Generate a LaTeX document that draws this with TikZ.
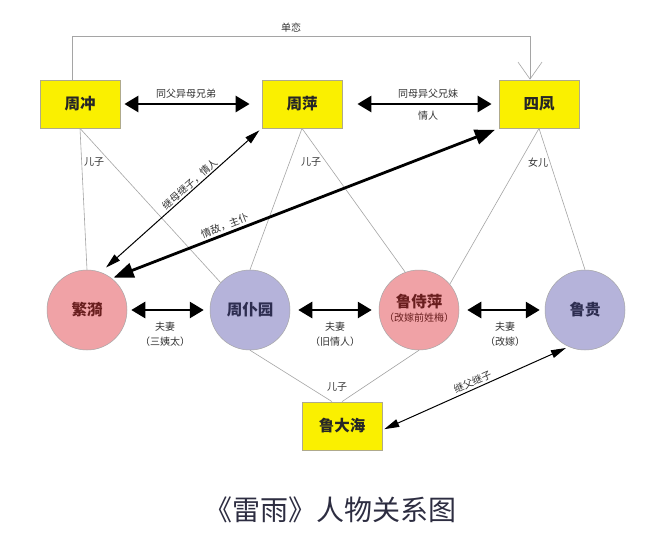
\documentclass[tikz,border=0pt]{standalone}
\usepackage{fontspec}
\setmainfont{Noto Sans CJK SC}
\usetikzlibrary{arrows.meta}
\definecolor{boxyellow}{RGB}{250,240,0}
\definecolor{boxline}{RGB}{175,170,140}
\definecolor{pinkc}{RGB}{240,162,166}
\definecolor{lavc}{RGB}{181,179,218}
\definecolor{pinktxt}{RGB}{105,30,30}
\definecolor{lavtxt}{RGB}{45,45,80}
\definecolor{reline}{RGB}{165,165,165}
\definecolor{titlec}{RGB}{45,45,65}
\begin{document}
\begin{tikzpicture}[x=1pt,y=-1pt,
  pbox/.style={draw=boxline, line width=0.8pt, fill=boxyellow, minimum width=80pt, minimum height=48pt, inner sep=0pt, font=\fontsize{15.5}{16}\selectfont\bfseries, text=black!85},
  pinkn/.style={circle, draw=gray!70, line width=0.5pt, fill=pinkc, minimum size=80pt, inner sep=0pt, font=\fontsize{15.5}{16}\selectfont\bfseries, text=pinktxt},
  lavn/.style={circle, draw=gray!70, line width=0.5pt, fill=lavc, minimum size=80pt, inner sep=0pt, font=\fontsize{15.5}{16}\selectfont\bfseries, text=lavtxt},
  nametxt/.style={inner sep=0pt, font=\fontsize{15.5}{16}\selectfont\bfseries},
  rel/.style={draw=reline, line width=0.6pt},
  thicktwo/.style={line width=2.8pt, {Triangle[length=14pt,width=16pt]}-{Triangle[length=14pt,width=16pt]}},
  thickdiag/.style={line width=2.8pt, {Triangle[length=20pt,width=15pt]}-{Triangle[length=20pt,width=15pt]}},
  thintwo/.style={line width=1pt, {Triangle[length=15pt,width=8pt]}-{Triangle[length=15pt,width=8pt]}},
  lab/.style={font=\fontsize{10}{12}\selectfont, text=black!80, inner sep=1pt},
]
\fill[white] (0,0) rectangle (647,549);
\useasboundingbox (0,0) rectangle (647,549);

% nodes
\node[pbox] (zc) at (80,104) {周冲};
\node[pbox] (zp) at (302,104) {周萍};
\node[pbox] (sf) at (539,104) {四凤};
\node[pbox] (ldh) at (342,426) {鲁大海};
\node[pinkn] (fy) at (87,310) {繁漪};
\node[lavn] (zpy) at (250,310) {周仆园};
\node[pinkn] (lsp) at (419,310) {};
\node[nametxt, text=pinktxt] (lspname) at (419,302) {鲁侍萍};
\node[lab, text=pinktxt] (lspsub) at (419,318) {（改嫁前姓梅）};
\node[lavn] (lg) at (585,310) {鲁贵};

% thin family lines
\draw[rel] (zc.south) -- (fy.north);
\draw[rel] (zc.south) -- (zpy.137);
\draw[rel] (zp.south) -- (zpy.north);
\draw[rel] (zp.south) -- (lsp.110);
\draw[rel] (sf.south) -- (lsp.40);
\draw[rel] (sf.south) -- (lg.north);
\draw[rel] (zpy.south) -- ([xshift=-10pt]ldh.north);
\draw[rel] (lsp.south) -- (ldh.north);
\node[lab] (l1) at (94,162) {儿子};
\node[lab] (l2) at (311,162) {儿子};
\node[lab] (l3) at (538,163) {女儿};
\node[lab] (l4) at (337,387) {儿子};

% unrequited love
\coordinate (dlc) at (72,36);
\draw[rel, -{Straight Barb[length=17pt,width=24pt]}] ([xshift=-8pt]zc.north) |- (dlc) -| ([xshift=-9pt]sf.north);
\node[lab] (dl) at (291,28) {单恋};

% horizontal thick arrows
\draw[thicktwo, shorten <=4pt, shorten >=12pt] (zc) -- (zp);
\node[lab] (t1) at (186,94) {同父异母兄弟};
\draw[thicktwo, shorten <=15pt, shorten >=7pt] (zp) -- (sf);
\node[lab] (t2) at (428,94) {同母异父兄妹};
\node[lab] (t3) at (428,116) {情人};

\draw[thicktwo, shorten <=4pt, shorten >=6pt] (fy) -- (zpy);
\node[lab] (c1) at (165,327) {夫妻};
\node[lab] (c2) at (165,342) {（三姨太）};
\draw[thicktwo, shorten <=8pt, shorten >=7pt] (zpy) -- (lsp);
\node[lab] (c3) at (335,327) {夫妻};
\node[lab] (c4) at (335,342) {（旧情人）};
\draw[thicktwo, shorten <=8pt, shorten >=5pt] (lsp) -- (lg);
\node[lab] (c5) at (505,327) {夫妻};
\node[lab] (c6) at (505,342) {（改嫁）};

% diagonal arrows
\draw[thintwo, shorten <=7pt, shorten >=3pt] (fy.70) -- (zp.south west)
  node[lab, pos=0.58, sloped, anchor=south, yshift=0pt] {继母继子，情人};
\draw[thickdiag, shorten <=2pt, shorten >=4pt] (fy.52) -- (sf.south west)
  node[lab, pos=0.3, sloped, anchor=south, yshift=1pt] {情敌，主仆};
\draw[thintwo, shorten <=2pt, shorten >=3pt] ([yshift=-4pt]ldh.east) -- (lg.246)
  node[lab, pos=0.5, sloped, anchor=south, yshift=1pt] {继父继子};

% title
\node[font=\fontsize{28}{32}\selectfont, text=titlec, inner sep=0pt] (title) at (330,510) {《雷雨》人物关系图};
\end{tikzpicture}
\end{document}
